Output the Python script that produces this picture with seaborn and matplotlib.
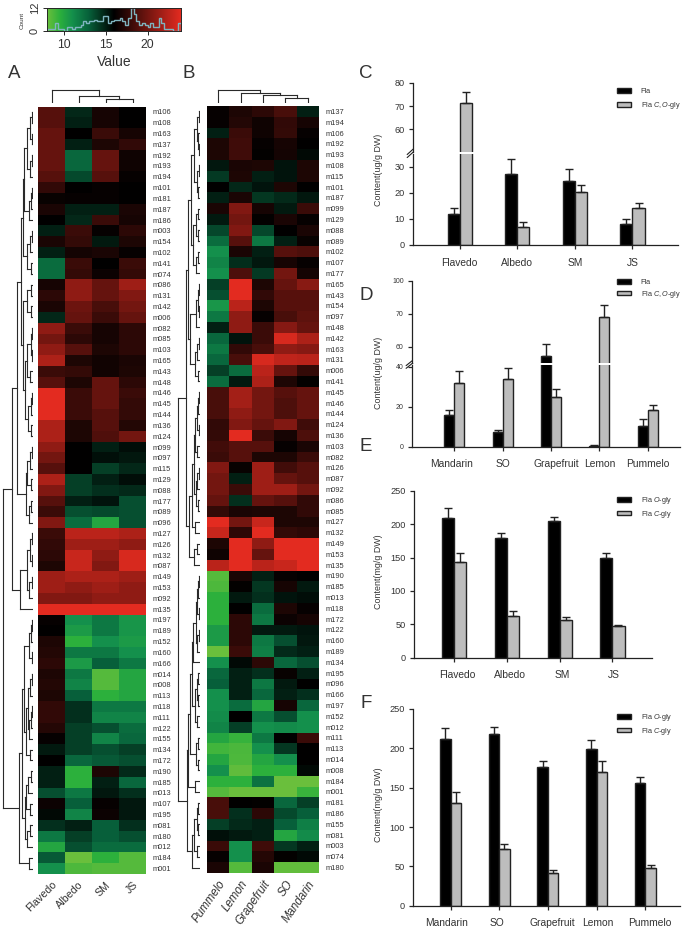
import numpy as np
import pandas as pd
import matplotlib
matplotlib.use("Agg")
import matplotlib.pyplot as plt
from matplotlib.colors import LinearSegmentedColormap
from matplotlib.transforms import ScaledTranslation
import seaborn as sns

# ---------- heatmap A ----------
rows_a = """m106 m108 m163 m137 m192 m193 m194 m101 m181 m187 m186 m003 m154 m102 m141 m074 m086 m131 m142 m006
m082 m085 m103 m165 m143 m148 m146 m145 m144 m136 m124 m099 m097 m115 m129 m088 m177 m089 m096 m127 m126 m132 m087
m149 m153 m092 m135 m197 m189 m152 m160 m166 m014 m008 m113 m118 m111 m122 m155 m134 m172 m190 m185 m013 m107 m195
m081 m180 m012 m184 m001""".split()
flavedo = [19,19,19.5,19.5,19.5,19.5,19,17.7,16.3,16.9,16,15,16.9,15,12.5,12.5,16.8,17.5,16.9,14.8,21,20,21,22,18,19,24,24,24,22,22,21,20,19,22,20.5,19,18,20.5,18,17.7,17.5,17,21.5,21.5,20.5,24,16.2,16,17,17.2,17.5,17,17.2,17,17.7,17.7,17.3,16.2,15.2,16,15,15,13.5,16.4,15.7,14.5,12,10,13.2,11]
albedo = [14.8,15,16,15,12.7,12.7,13.7,16,16.2,15,14.8,18,17.8,16.7,18,17.8,21,21,19.8,19.5,18,17.5,19,17,17.8,17,18,18,18,17,17,16,16,16,14,14,15,13.5,12.5,22.5,21.5,23,23,22,21,20.5,24,11,10.5,9.5,12,10.5,12,11.5,13,14.5,14.5,14,14,14,12.7,9.5,9.5,12,13,11.5,15,14,13.5,8,8.7]
sm = [16.8,16.8,18,17,19.5,19.5,19,16.2,16.2,15,18,16.2,15.2,16.9,16,16.4,19.5,19.5,18.5,18,16.8,16.8,17,16.6,16.6,19.5,19.5,19.5,19,19,18.8,15,15.5,14,15,14.5,15.4,13.7,10,22.5,21.5,21,20.5,22,21.5,21,24,12,12,11,12,13,8.5,8.5,9.5,12,11.5,13.5,11.5,13.5,13.2,17,15,15.3,16.2,16.4,13,13,12.5,9.5,8.5]
js = [16,16,16.8,17.7,16.5,16.5,16.2,16,16,16.9,16.8,17.5,17,16.2,18,17.8,21.5,20.5,20,19.5,17.5,17.5,17.5,16.9,17,17.5,18,17.8,17.8,17.2,20,15.6,15.3,14.8,15.6,14.7,13.5,13.5,13.5,22,21,23.5,23.5,21.5,21,21,24,10.8,10.8,10.5,11,12,10,10,10,12,11.5,12.5,12.7,14,13.5,14.7,12.7,14.5,15.3,15.3,14.5,13.5,12.5,8.5,8.5]

# ---------- heatmap B ----------
rows_b = """m137 m194 m106 m192 m193 m108 m115 m101 m187 m099 m129 m088 m089 m102 m107 m177 m165 m143 m154 m097 m148 m142 m163
m131 m006 m141 m145 m146 m144 m124 m136 m103 m082 m126 m087 m092 m086 m085 m127 m132 m149 m153 m135 m190 m185 m013 m118
m172 m122 m160 m189 m134 m195 m096 m166 m197 m152 m012 m111 m113 m014 m008 m184 m001 m181 m186 m155 m081 m003 m074 m180""".split()
pummelo = [16.2,16.2,15,17,17,15.3,14.2,16,15,16.9,15.2,13.8,12.5,11,11.5,11,14,13.5,10.7,12,15,12.7,12,12.7,14,12.5,18.5,18.5,18.5,17.7,17.8,18.3,18,20.5,20,20,19.5,17.8,24,23,17,16.5,22.5,8.5,8.7,9.5,9.5,9.5,10.5,10.5,8,11,12.7,13,11,11,11.2,11.5,10,9,10,11,9.5,8.5,18.5,18.5,14,15.5,18,16.2,16.9]
lemon = [17,17.2,18,18.2,18.2,16.9,17,14.8,16.9,20.5,20,20.5,19,16.9,14.6,18.7,24,24,22.5,21,21,15.4,17.7,18.5,12.5,15.2,21.7,21.7,21,20.5,24,19,19,16.3,15,18,14.5,16.9,20,17.5,24,24,24,16.9,16.1,15.2,16,17.5,17.5,17.5,18,15.7,15,15,15,12.5,16,14,9.3,8.8,8.7,8.3,9.5,8,16,14.5,14.7,15.2,11,11,8.5]
grapefruit = [17.5,16.5,16.5,16.2,16.1,17,15,15.4,14.3,16.8,16.1,13.8,12,15,15.3,14.2,17,17.7,17,16.2,18,18,18.5,23.5,22.5,22,20,20,20,19.5,18,19,17,21.5,21.5,21.5,19.5,17,23,24,21,19.5,22.5,15,14.3,14.5,12.5,12,15.2,12,11.8,17.5,14.5,12,12.7,10,12,11,12,11,10,9.5,12.3,8,16.1,17.5,15,15,18.2,17.3,16.9]
so = [18.5,17.7,17.8,16.8,16.7,15.4,15.4,17,14.7,15.2,16.9,16,15,19,16.8,20,19.5,19,19,18.5,20.7,23.5,21,22.7,19.5,17,19,18.7,18.7,20.5,16.8,16.2,17,18.3,19.5,21.5,19,17,17,17.8,24,24,23,16.2,16.8,15.4,17,16.4,15.2,13.5,14.7,12.7,16.3,15.2,15,16.8,13.5,11.2,16,14.3,11,9.5,8,8,12.7,13.7,13,10,14.3,16.1,8.2]
mandarin = [15,16.8,16.2,16,15.7,17,17,16,15.3,18,16.2,16.9,16.3,18.7,16.2,16.7,20.8,19,19,19.3,19.5,22,20.7,22.5,17.8,16.1,19.5,19.5,19.5,18.2,18.7,16.9,18,19,19,20,17.7,17.7,17,17.5,24,24,24,16,15.2,15.6,16.2,16.8,15.4,15.3,15,13.5,15,16,14.5,12.7,11,11,18,16,16,15.7,8,9.2,14,13,11.7,11.2,15,15.7,8.2]

# ---------- colour key histogram ----------
hist_counts = [1,1,1,4,1,1,0,2,2,1,2,2,3,5,4,5,5,6,5,5,8,8,4,5,6,6,7,5,3,7,12,9,5,3,4,3,2,4,2,2,7,4,1,1,1,0,0,4]

# ---------- dendrogram topologies: [height, child, child...], 0 is a leaf ----------
tree_col_a = [13, 0, [7, 0, [4, 0, 0]]]
tree_col_b = [13, 0, [10, 0, [8, 0, [5, 0, 0]]]]
a1 = [6, [3, [1.5, 0, 0], [1.5, 0, 0]], [3, [1.5, 0, 0], 0]]
a2 = [4.5, [2.5, [1, 0, 0], 0], 0]
a3 = [6, [3, [1.5, 0, 0], 0], [2, 0, 0]]
a4 = [6, [2.5, 0, 0], [2.5, 0, 0]]
a5 = [6, [2.5, [1.5, 0, 0], [1.5, 0, 0]], [3, 0, 0]]
a6 = [5, [2.5, [1.5, 0, 0], 0], [2, 0, 0]]
a7 = [7.5, [6, [3, [1.5, 0, 0], 0], [2, 0, 0]], [4.5, [2, 0, 0], 0]]
a8 = [13, [6.5, [3.5, [1, 0, 0], [1.5, 0, 0]], [4, [1.5, 0, 0], 0]], 0]
a_upper = [15.7, [12.3, [10.5, [9, a1, a2], a3], [10, a4, [8, a5, a6]]], a7]
a_low1 = [9, [4, [2, [1, 0, 0], 0], [1.5, 0, 0]],
          [7, [5.5, [3, [1.5, 0, 0], 0], [4, [2.5, [1.5, 0, 0], 0], 0]], [3, 0, 0]]]
a_low2 = [8, [7, [5, [2.5, 0, 0], 0], [3.5, 0, 0]], [6.5, [3, 0, 0], 0]]
a_lower = [13.7, [11, a_low1, a_low2], [3.7, 0, 0]]
tree_row_a = [30.3, [20.7, a_upper, a8], a_lower]

b1 = [5.7, [3.5, [1.5, 0, 0], [2, 0, [1, 0, 0]]], [3.5, [1.5, 0, 0], [2, 0, 0]]]
b2 = [6.7, [4, [2, 0, 0], [2, 0, 0]], [4, [2, 0, 0], 0]]
b3 = [10, [4, [2.5, [1.5, 0, 0], [1.5, 0, 0]], 0], [5, [3, [1.5, 0, 0], 0], [2, 0, 0]]]
b_top = [12.5, [9, b1, b2], b3]
b4 = [5.5, [3.5, [2, [1, 0, 0], 0], [1.5, 0, 0]], [3, 0, 0]]
b5 = [4.5, [3, [1.5, 0, 0], 0], [2.5, 0, 0]]
b_mid = [11, [8, [6.5, b4, b5], [5, 0, 0]], [6.5, [3, 0, 0], 0]]
b6 = [7, [4.5, [3, [2, [1, 0, 0], 0], [1.5, 0, 0]], [3, [1.5, 0, 0], 0]], 0]
b7 = [5, [3.5, [2, 0, 0], [2, 0, 0]], [3, 0, 0]]
b8 = [12.3, [10, [7.7, b6, b7], [4.5, [2.5, 0, 0], [2.5, 0, 0]]], [5, 0, 0]]
b9 = [8, [6, [3.5, [2, 0, 0], [2, 0, 0]], [3, 0, 0]], 0]
tree_row_b = [21.7, [14.5, b_top, b_mid], [13, b8, b9]]

# ---------- bar charts ----------
tissues = ["Flavedo", "Albedo", "SM", "JS"]
species = ["Mandarin", "SO", "Grapefruit", "Lemon", "Pummelo"]
c_fla = [11.7, 27.3, 24.5, 8]
c_fla_top = [14, 33, 29.2, 9.8]
c_coly = [71.2, 7, 20.2, 14.2]
c_coly_top = [76, 8.8, 23, 16]
d_fla = [15.9, 7.5, 57.3, 0.6, 10.3]
d_fla_top = [18.2, 8.4, 60.8, 0.7, 13.8]
d_coly = [32, 33.8, 25, 69, 18.4]
d_coly_top = [38, 39.2, 29, 72.6, 20.8]
e_o = [209, 179, 205, 150]
e_o_top = [224, 186, 211, 157]
e_c = [143, 62.5, 56, 47]
e_c_top = [156, 70, 60.5, 49.5]
f_o = [212, 218, 176, 199.5, 156]
f_o_top = [225.5, 226.5, 183.5, 210, 164]
f_c = [130, 72, 42, 170.5, 48.5]
f_c_top = [144, 78.5, 45, 184.5, 52]

W, H = 685, 933
sns.set_theme(style="ticks")
plt.rcParams["font.family"] = ["Liberation Sans", "DejaVu Sans"]
plt.rcParams["mathtext.fontset"] = "custom"
plt.rcParams["mathtext.it"] = "Liberation Sans:italic"
plt.rcParams["mathtext.rm"] = "Liberation Sans"
plt.rcParams["text.color"] = "#333333"
plt.rcParams["xtick.labelcolor"] = "#333333"
plt.rcParams["ytick.labelcolor"] = "#333333"
fig = plt.figure(figsize=(W / 100, H / 100), dpi=100, facecolor="white")


def box(l, t, r, b):
    return fig.add_axes([l / W, 1 - b / H, (r - l) / W, (b - t) / H])


cmap = LinearSegmentedColormap.from_list(
    "key", [(0, "#6ABF3C"), (1.5 / 16, "#2CB03C"), (3 / 16, "#14904C"), (5 / 16, "#07603A"),
            (0.5, "#000000"), (1, "#E32B20")])


def walk(node, counter, segs):
    """Return (position, height) of a node and collect its bracket segments."""
    if node == 0:
        counter[0] += 1
        return counter[0] - 0.5, 0.0
    h = node[0]
    kids = [walk(k, counter, segs) for k in node[1:]]
    for p, kh in kids:
        segs.append(((p, p), (kh, h)))
    segs.append(((kids[0][0], kids[-1][0]), (h, h)))
    return (kids[0][0] + kids[-1][0]) / 2, h


def dendro(ax, tree, vertical):
    segs = []
    walk(tree, [0], segs)
    for ps, hs in segs:
        if vertical:
            ax.plot(ps, hs, color="#2a2a2a", lw=0.8, solid_capstyle="projecting")
        else:
            ax.plot(hs, ps, color="#2a2a2a", lw=0.8, solid_capstyle="projecting")
    ax.axis("off")


def heat(values, rows, cols, l, r, t, b, rot, italic, colsize):
    ax = box(l, t, r, b)
    df = pd.DataFrame(values, index=rows, columns=cols)
    sns.heatmap(df, ax=ax, cmap=cmap, vmin=8, vmax=24, cbar=False,
                xticklabels=True, yticklabels=True)
    ax.yaxis.tick_right()
    ax.tick_params(axis="y", length=0, labelsize=5.4, rotation=0, pad=5)
    ax.tick_params(axis="x", length=0, pad=4)
    for lab in ax.get_xticklabels():
        lab.set(rotation=rot, ha="right", rotation_mode="anchor", fontsize=colsize,
                style="italic" if italic else "normal")
    ax.set_xlabel("")
    ax.set_ylabel("")
    return ax


# panel A
heat({"Flavedo": flavedo, "Albedo": albedo, "SM": sm, "JS": js}, rows_a,
     ["Flavedo", "Albedo", "SM", "JS"], 38, 146, 106.5, 874, 45, False, 7.7)
ax = box(0, 106.5, 33, 874)
dendro(ax, tree_row_a, False)
ax.set_xlim(33, 0)
ax.set_ylim(71, 0)
ax = box(38, 86, 146, 102.5)
dendro(ax, tree_col_a, True)
ax.set_xlim(0, 4)
ax.set_ylim(0, 16.5)

# panel B
heat({"Pummelo": pummelo, "Lemon": lemon, "Grapefruit": grapefruit, "SO": so, "Mandarin": mandarin},
     rows_b, ["Pummelo", "Lemon", "Grapefruit", "SO", "Mandarin"], 207, 319, 106, 873, 55, True, 8.3)
ax = box(175, 106, 200, 873)
dendro(ax, tree_row_b, False)
ax.set_xlim(25, 0)
ax.set_ylim(71, 0)
ax = box(207, 86, 319, 102.5)
dendro(ax, tree_col_b, True)
ax.set_xlim(0, 5)
ax.set_ylim(0, 16.5)

# colour key
ax = box(47, 8, 181, 31)
ax.imshow(np.linspace(8, 24, 256)[None, :], cmap=cmap, vmin=8, vmax=24, aspect="auto",
          extent=(8, 24, 0, 12))
ax.stairs(hist_counts, np.linspace(8, 24, len(hist_counts) + 1), color="#7fb4bf", lw=1)
ax.set_xlim(8, 24)
ax.set_ylim(0, 12)
ax.set_xticks([10, 15, 20])
ax.set_yticks([0, 12])
ax.tick_params(axis="x", labelsize=8.8, length=3, width=0.7, pad=3)
ax.tick_params(axis="y", labelsize=8, length=3, width=0.7, pad=2)
plt.setp(ax.get_yticklabels(), rotation=90, va="center")
for s in ax.spines.values():
    s.set_linewidth(0.7)
fig.text(114 / W, 1 - 62 / H, "Value", fontsize=10, ha="center", va="center")
fig.text(22 / W, 1 - 20 / H, "Count", fontsize=4.6, rotation=90, ha="center", va="center")

# panel letters
for letter, x, y in [("A", 14, 73), ("B", 189, 73), ("C", 366, 73), ("D", 366, 296),
                     ("E", 366, 446), ("F", 366, 703)]:
    fig.text(x / W, 1 - y / H, letter, fontsize=13.5, ha="center", va="center")


def draw_bars(ax, groups, names, vals, tops, width, xlim, ylim, labelsize=None, nudges=None):
    df = pd.DataFrame({
        "group": list(groups) * 2,
        "series": [names[0]] * len(groups) + [names[1]] * len(groups),
        "value": list(vals[0]) + list(vals[1]),
    })
    sns.barplot(data=df, x="group", y="value", hue="series", ax=ax, palette=["black", "#bdbdbd"],
                width=width, gap=0, errorbar=None, edgecolor="#222222", linewidth=1.0,
                saturation=1)
    for cont, v, t in zip(ax.containers, vals, tops):
        xs = [p.get_x() + p.get_width() / 2 for p in cont.patches]
        lower = np.zeros(len(xs))
        upper = np.array(t) - np.array(v)
        ax.errorbar(xs, v, yerr=[lower, upper], fmt="none", ecolor="#222222",
                    elinewidth=1.0, capsize=3.2, capthick=1.0)
    ax.set_xlim(*xlim)
    ax.set_ylim(*ylim)
    ax.set_xlabel("")
    ax.set_ylabel("")
    sns.despine(ax=ax)
    for s in ("left", "bottom"):
        ax.spines[s].set_linewidth(0.9)
        ax.spines[s].set_color("#222222")
    ax.tick_params(axis="x", length=3, width=0.9, labelsize=7.4, pad=6)
    ax.tick_params(axis="y", length=3, width=0.9, labelsize=labelsize or 6.6, pad=3)
    if nudges:
        for lab, dx in zip(ax.get_xticklabels(), nudges):
            lab.set_transform(lab.get_transform() + ScaledTranslation(dx / 100, 0, fig.dpi_scale_trans))
    return ax


def set_legend(ax, x, y, fs=5.2, spacing=0.7):
    h, l = ax.get_legend_handles_labels()
    ax.legend(h[:2], l[:2], loc="upper left", bbox_to_anchor=(x / W, 1 - y / H),
              bbox_transform=fig.transFigure, frameon=False, fontsize=fs, borderpad=0,
              borderaxespad=0, handlelength=1.9, handleheight=0.55, handletextpad=1.4,
              labelspacing=spacing, labelcolor="#333333")


def broken(groups, names, vals, tops, width, xlim, low, up, lo_lim, up_lim, lo_ticks, up_ticks,
           up_labels, lsize, nudges=None):
    a_low = box(low[0], low[1], low[2], low[3])
    draw_bars(a_low, groups, names, vals, tops, width, xlim, lo_lim, lsize, nudges)
    a_low.set_yticks(lo_ticks)
    a_low.legend_.remove()
    a_up = box(up[0], up[1], up[2], up[3])
    draw_bars(a_up, groups, names, vals, tops, width, xlim, up_lim, lsize)
    a_up.set_yticks(up_ticks)
    a_up.set_yticklabels(up_labels)
    a_up.spines["bottom"].set_visible(False)
    a_up.set_xticks([])
    for dy in (0.0, 3.0):
        a_low.plot([-0.022, 0.012], [1.0 + (dy - 4) / 90, 1.0 + (dy + 4) / 90],
                   transform=a_low.transAxes, clip_on=False, color="#222222", lw=0.8)
    return a_up


# panel C
up = broken(tissues, ["Fla", r"Fla $\mathit{C,O}$-gly"], [c_fla, c_coly], [c_fla_top, c_coly_top],
            0.42, (-0.81, 3.79), (413, 153.5, 678, 245), (413, 83, 678, 152),
            (0, 35), (50.2, 80), [0, 10, 20, 30], [60, 70, 80], ["60", "70", "80"], 6.6)
set_legend(up, 617, 88)
fig.text(379 / W, 1 - 170 / H, "Content(ug/g DW)", fontsize=6.4, rotation=90, ha="center", va="center")

# panel D
up = broken(species, ["Fla", r"Fla $\mathit{C,O}$-gly"], [d_fla, d_coly], [d_fla_top, d_coly_top],
            0.414, (-0.88, 4.67), (412, 364.7, 680, 446.7), (412, 280.7, 680, 363.3),
            (0, 41), (55, 80), [0, 20, 40], [60, 70, 80], ["60", "70", "100"], 5.0,
            nudges=[-3, 0, 5, 0, 0])
set_legend(up, 617, 279, spacing=0.35)
fig.text(379 / W, 1 - 373 / H, "Content(ug/g DW)", fontsize=6.4, rotation=90, ha="center", va="center")

# panel E
ax = box(414, 490.7, 652, 657.7)
draw_bars(ax, tissues, [r"Fla $\mathit{O}$-gly", r"Fla $\mathit{C}$-gly"], [e_o, e_c], [e_o_top, e_c_top],
          0.46, (-0.76, 3.75), (0, 250), nudges=[3, 3, 3, 1])
ax.set_yticks([0, 50, 100, 150, 200, 250])
set_legend(ax, 617, 495, spacing=0.35)
fig.text(379 / W, 1 - 572 / H, "Content(mg/g DW)", fontsize=6.4, rotation=90, ha="center", va="center")

# panel F
ax = box(413, 709, 680, 905.7)
draw_bars(ax, species, [r"Fla $\mathit{O}$-gly", r"Fla $\mathit{C}$-gly"], [f_o, f_c], [f_o_top, f_c_top],
          0.43, (-0.77, 4.71), (0, 250), nudges=[-4, -2, 4, 1, 4])
ax.set_yticks([0, 50, 100, 150, 200, 250])
set_legend(ax, 617, 712, spacing=0.35)
fig.text(379 / W, 1 - 805 / H, "Content(mg/g DW)", fontsize=6.4, rotation=90, ha="center", va="center")

fig.savefig("out.png", dpi=100, facecolor="white")
